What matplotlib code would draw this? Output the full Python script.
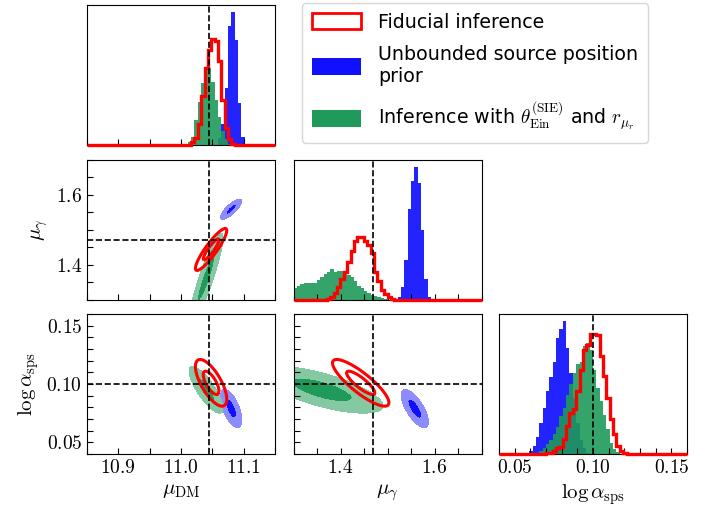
import numpy as np
import matplotlib
matplotlib.use("Agg")
import matplotlib.pyplot as plt
from matplotlib.patches import Patch
from matplotlib.ticker import MultipleLocator

plt.rcParams['font.family'] = 'serif'
plt.rcParams['font.serif'] = ['cmr10']
plt.rcParams['mathtext.fontset'] = 'cm'
plt.rcParams['axes.formatter.use_mathtext'] = True

# parameter order: mu_DM, mu_gamma, log alpha_sps
LABELS = [r'$\mu_{\rm DM}$', r'$\mu_\gamma$', r'$\log\alpha_{\rm sps}$']
LIMITS = [(10.85, 11.15), (1.3, 1.7), (0.04, 0.16)]
TRUTH = [11.045, 1.47, 0.10]
MAJOR = [0.1, 0.2, 0.05]
MINOR = [0.05, 0.05, 0.01]
N_BINS = 56

# 1D marginals: (first bin index, normalised heights)
hist_red = [
    (31, [0.02, 0.05, 0.15, 0.35, 0.55, 0.68, 0.76, 0.74, 0.60, 0.32, 0.12, 0.04, 0.01]),
    (10, [0.005, 0.02, 0.05, 0.09, 0.15, 0.20, 0.27, 0.35, 0.42, 0.45, 0.45, 0.42,
          0.39, 0.33, 0.20, 0.13, 0.07, 0.04, 0.015, 0.005]),
    (14, [0.01, 0.01, 0.02, 0.04, 0.05, 0.11, 0.20, 0.29, 0.32, 0.45, 0.60, 0.74,
          0.78, 0.86, 0.86, 0.85, 0.70, 0.56, 0.40, 0.25, 0.14, 0.06, 0.025, 0.01]),
]
hist_blue = [
    (39, [0.05, 0.15, 0.41, 0.85, 0.95, 0.75, 0.30, 0.06, 0.01]),
    (31, [0.02, 0.09, 0.28, 0.65, 0.85, 0.95, 0.83, 0.50, 0.15, 0.02]),
    (9, [0.02, 0.06, 0.12, 0.22, 0.33, 0.45, 0.55, 0.66, 0.83, 0.89, 0.95, 0.76,
         0.58, 0.40, 0.22, 0.10, 0.04, 0.01]),
]
hist_green = [
    (30, [0.02, 0.06, 0.18, 0.31, 0.44, 0.55, 0.55, 0.45, 0.32, 0.20, 0.10, 0.04, 0.01]),
    (0, [0.08, 0.10, 0.11, 0.115, 0.115, 0.115, 0.12, 0.14, 0.16, 0.185, 0.20, 0.215,
         0.20, 0.205, 0.205, 0.19, 0.175, 0.16, 0.135, 0.10, 0.08, 0.063, 0.044,
         0.032, 0.025, 0.018, 0.01, 0.005]),
    (12, [0.02, 0.04, 0.07, 0.10, 0.14, 0.19, 0.27, 0.33, 0.42, 0.50, 0.58, 0.64,
          0.66, 0.77, 0.79, 0.74, 0.60, 0.47, 0.38, 0.28, 0.18, 0.08, 0.035, 0.015]),
]

# 2D posteriors: means, standard deviations, correlations (DM-g, DM-a, g-a)
mean_red = [11.048, 1.443, 0.101]
sd_red = [0.0125, 0.030, 0.010]
rho_red = [0.90, -0.70, -0.85]

mean_blue = [11.080, 1.558, 0.079]
sd_blue = [0.0085, 0.0145, 0.0082]
rho_blue = [0.80, -0.60, -0.70]

mean_green = [11.040, 1.36, 0.095]
sd_green = [0.0135, 0.065, 0.010]
rho_green = [0.90, -0.80, -0.68]

RED = '#ff0000'
BLUE = '#1010ff'
BLUE_LIGHT = '#8c8cff'
GREEN = '#1f9a5a'
GREEN_LIGHT = '#85c9a3'


def full_hist(spec):
    start, vals = spec
    h = np.zeros(N_BINS)
    h[start:start + len(vals)] = vals
    return h


def mahalanobis(i, j, mean, sd, rho, X, Y):
    r = rho[{(0, 1): 0, (0, 2): 1, (1, 2): 2}[(j, i)]]
    dx = (X - mean[j]) / sd[j]
    dy = (Y - mean[i]) / sd[i]
    return (dx**2 - 2 * r * dx * dy + dy**2) / (1 - r**2)


fig = plt.figure(figsize=(7.22, 5.16), dpi=100)
W, H = 722.0, 516.0
lefts = [87, 293.5, 499]
tops = [5, 159.5, 314]
aw, ah = 188, 140

for i in range(3):
    for j in range(i + 1):
        ax = fig.add_axes([lefts[j] / W, 1 - (tops[i] + ah) / H, aw / W, ah / H])
        ax.set_xlim(LIMITS[j])
        ax.xaxis.set_major_locator(MultipleLocator(MAJOR[j]))
        ax.xaxis.set_minor_locator(MultipleLocator(MINOR[j]))
        ax.tick_params(which='both', direction='in', length=4, width=0.8,
                       labelsize=14, top=False, right=False)

        if i == j:
            edges = np.linspace(LIMITS[i][0], LIMITS[i][1], N_BINS + 1)
            ax.stairs(full_hist(hist_blue[i]), edges, fill=True, color=BLUE,
                      alpha=0.92, lw=0)
            ax.stairs(full_hist(hist_green[i]), edges, fill=True, color=GREEN,
                      alpha=0.9, lw=0)
            ax.stairs(full_hist(hist_red[i]), edges, color=RED, lw=2.4,
                      clip_on=False, zorder=5)
            ax.axvline(TRUTH[i], color='k', ls='--', lw=1.2, zorder=6)
            ax.set_ylim(0, 1)
            ax.set_yticks([])
        else:
            ax.set_ylim(LIMITS[i])
            ax.yaxis.set_major_locator(MultipleLocator(MAJOR[i]))
            ax.yaxis.set_minor_locator(MultipleLocator(MINOR[i]))
            span_x = LIMITS[j][1] - LIMITS[j][0]
            span_y = LIMITS[i][1] - LIMITS[i][0]
            gx = np.linspace(LIMITS[j][0] - 0.3 * span_x, LIMITS[j][1], 400)
            gy = np.linspace(LIMITS[i][0] - 0.3 * span_y, LIMITS[i][1], 400)
            X, Y = np.meshgrid(gx, gy)
            for mean, sd, rho, cols in [(mean_blue, sd_blue, rho_blue, [BLUE, BLUE_LIGHT]),
                                        (mean_green, sd_green, rho_green, [GREEN, GREEN_LIGHT])]:
                m = mahalanobis(i, j, mean, sd, rho, X, Y)
                ax.contourf(X, Y, m, levels=[0, 1, 4], colors=cols)
            m = mahalanobis(i, j, mean_red, sd_red, rho_red, X, Y)
            ax.contour(X, Y, m, levels=[1, 4], colors=RED, linewidths=2.2)
            ax.axvline(TRUTH[j], color='k', ls='--', lw=1.2)
            ax.axhline(TRUTH[i], color='k', ls='--', lw=1.2)
            ax.set_xlim(LIMITS[j])
            ax.set_ylim(LIMITS[i])
            if j == 0:
                ax.set_ylabel(LABELS[i], fontsize=15)
            else:
                ax.set_yticklabels([])

        if i == 2:
            ax.set_xlabel(LABELS[j], fontsize=15)
        else:
            ax.set_xticklabels([])

handles = [Patch(facecolor='none', edgecolor=RED, lw=2),
           Patch(facecolor=BLUE, edgecolor='none'),
           Patch(facecolor=GREEN, edgecolor='none')]
labels = ['Fiducial inference',
          'Unbounded source position\nprior',
          r'Inference with $\theta_{\rm Ein}^{\rm (SIE)}$ and $r_{\mu_r}$']
fig.legend(handles, labels, loc='upper left', bbox_to_anchor=(302 / W, 1 - 3 / H),
           prop={'family': 'DejaVu Sans', 'size': 13.7}, handlelength=2.6,
           handleheight=0.95, handletextpad=0.9, borderaxespad=0,
           borderpad=0.5, labelspacing=0.72)

fig.savefig('out.png', dpi=100)
